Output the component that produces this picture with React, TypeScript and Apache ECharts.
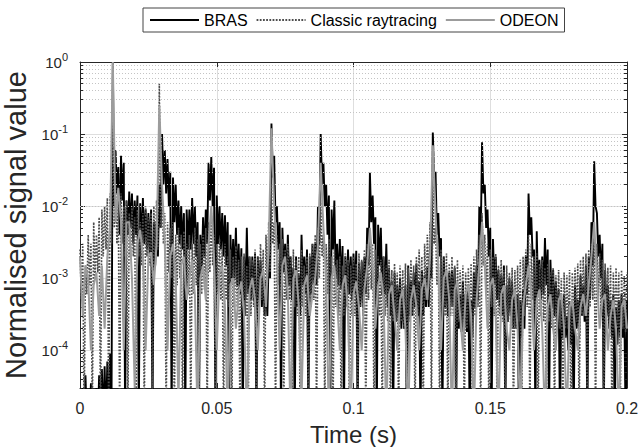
import React, { useEffect, useRef } from 'react';
import * as echarts from 'echarts';

// sample step of the read-off values (s)
const DT = 0.001;
const X_MIN = 0;
const X_MAX = 0.2;
const X_INTERVAL = 0.05;
const Y_MIN = 3e-5;
const Y_MAX = 1;
const SERIES_NAMES = ['BRAS', 'Classic raytracing', 'ODEON'];

// BRAS: upper values at each ms, lower values at each half ms
const BRAS_HI = [
  2e-5, 3e-5, 4.5e-5, 2e-5, 3.5e-5, 2e-5, 3e-5, 4.5e-5, 5.5e-5, 6e-5,
  7e-5, 9e-5, 1, 0.06, 0.035, 0.05, 0.04, 0.012, 0.016, 0.015,
  0.012, 0.014, 0.011, 0.013, 0.009, 0.008, 0.009, 0.006, 0.006, 0.02,
  0.1, 0.06, 0.045, 0.03, 0.025, 0.02, 0.012, 0.01, 0.008, 0.009,
  0.009, 0.013, 0.01, 0.006, 0.004, 0.007, 0.009, 0.04, 0.048, 0.034,
  0.014, 0.01, 0.008, 0.0075, 0.006, 0.004, 0.0035, 0.005, 0.003, 0.0026,
  0.002, 0.005, 0.002, 0.002, 0.0022, 0.002, 0.0018, 0.0012, 0.0009, 0.002,
  0.14, 0.05, 0.01, 0.006, 0.005, 0.003, 0.004, 0.002, 0.0014, 0.002,
  0.0011, 0.004, 0.002, 0.0025, 0.002, 0.003, 0.003, 0.01, 0.1, 0.04,
  0.02, 0.014, 0.009, 0.012, 0.003, 0.0035, 0.0028, 0.002, 0.0025, 0.002,
  0.0022, 0.0024, 0.0016, 0.0017, 0.002, 0.005, 0.029, 0.014, 0.007, 0.0055,
  0.005, 0.002, 0.003, 0.0014, 0.0009, 0.0012, 0.0008, 0.001, 0.0007, 0.0008,
  0.0015, 0.0009, 0.0012, 0.0016, 0.0009, 0.0013, 0.0011, 0.0014, 0.003, 0.105,
  0.03, 0.008, 0.0036, 0.002, 0.0011, 0.0012, 0.0013, 0.0014, 0.0008, 0.0006,
  0.0009, 0.0006, 0.0007, 0.0005, 0.0012, 0.0015, 0.01, 0.077, 0.02, 0.009,
  0.005, 0.0035, 0.002, 0.0013, 0.0011, 0.0015, 0.0008, 0.001, 0.0009, 0.0007,
  0.0006, 0.0005, 0.0007, 0.002, 0.015, 0.007, 0.0025, 0.0045, 0.0018, 0.002,
  0.0036, 0.0025, 0.0018, 0.0013, 0.0009, 0.0007, 0.0005, 0.0006, 0.0003, 0.00045,
  0.0004, 0.0008, 0.0005, 0.0011, 0.0008, 0.0015, 0.002, 0.006, 0.042, 0.008,
  0.004, 0.003, 0.0013, 0.0008, 0.0005, 0.0006, 0.0004, 0.0005, 0.0006, 0.0004,
  0.0005,
];
const BRAS_LO = [
  1e-5, 1e-5, 1e-5, 1e-5, 1e-5, 1e-5, 1e-5, 1e-5, 1e-5, 1e-5,
  1e-5, 1e-5, 0.01, 0.015, 4e-3, 0.012, 1e-5, 4e-3, 5e-3, 3e-3,
  4e-3, 1e-5, 3e-3, 3e-3, 2.5e-3, 2e-3, 1e-5, 1.5e-3, 2e-3, 5e-3,
  0.02, 0.015, 0.01, 1e-5, 6e-3, 4e-3, 3e-3, 2.5e-3, 1e-5, 2.5e-3,
  2.5e-3, 3e-3, 2e-3, 1e-5, 1.2e-3, 2e-3, 3e-3, 0.012, 0.01, 1e-5,
  3e-3, 2.5e-3, 2e-3, 1.5e-3, 1e-5, 1e-3, 1e-3, 8e-4, 6e-4, 1e-5,
  5e-4, 6e-4, 5e-4, 5e-4, 1e-5, 5e-4, 4e-4, 3e-4, 3e-4, 1e-3,
  0.025, 6e-3, 2.5e-3, 1e-5, 1.2e-3, 8e-4, 8e-4, 5e-4, 1e-5, 4e-4,
  3e-4, 8e-4, 6e-4, 1e-5, 6e-4, 8e-4, 8e-4, 3e-3, 0.02, 0.01,
  4e-3, 1e-5, 2.5e-3, 1e-3, 8e-4, 7e-4, 1e-5, 5e-4, 6e-4, 5e-4,
  6e-4, 1e-5, 4e-4, 4e-4, 6e-4, 1.5e-3, 6e-3, 3e-3, 1e-5, 1.5e-3,
  6e-4, 6e-4, 4e-4, 3e-4, 1e-5, 2.5e-4, 2.5e-4, 2e-4, 2e-4, 1e-5,
  3e-4, 3e-4, 4e-4, 3e-4, 1e-5, 3e-4, 4e-4, 4e-4, 1e-3, 0.025,
  4e-3, 2e-3, 1e-5, 4e-4, 3e-4, 4e-4, 4e-4, 1e-5, 2e-4, 1.8e-4,
  2e-4, 1.8e-4, 1e-5, 1.5e-4, 4e-4, 5e-4, 3e-3, 0.015, 5e-3, 2e-3,
  1e-5, 8e-4, 5e-4, 4e-4, 3e-4, 1e-5, 2.5e-4, 3e-4, 2e-4, 2e-4,
  1e-5, 1.5e-4, 2e-4, 6e-4, 4e-3, 2e-3, 1e-5, 6e-4, 5e-4, 6e-4,
  8e-4, 1e-5, 4e-4, 3e-4, 2.5e-4, 1e-5, 1.5e-4, 1.5e-4, 1e-4, 1.2e-4,
  1e-5, 2e-4, 1.5e-4, 3e-4, 2.5e-4, 1e-5, 5e-4, 1.5e-3, 0.01, 2e-3,
  1e-3, 1e-5, 3e-4, 2e-4, 1.5e-4, 1e-5, 1.2e-4, 1.5e-4, 1.5e-4, 1e-5,
];

// Classic raytracing
const CLASSIC_HI = [
  2.5e-3, 3e-3, 1.5e-3, 4e-3, 3e-3, 6e-3, 4e-3, 7e-3, 9e-3, 1e-2,
  1.3e-2, 1.5e-2, 1, 0.02, 0.012, 0.015, 0.01, 0.012, 0.008, 0.01,
  0.007, 0.009, 0.006, 0.008, 0.01, 0.007, 0.008, 0.01, 0.012, 0.5,
  0.015, 0.008, 0.006, 0.005, 0.006, 0.004, 0.005, 0.004, 0.0045, 0.003,
  0.004, 0.003, 0.005, 0.0035, 0.003, 0.004, 0.005, 0.006, 0.008, 0.004,
  0.003, 0.0035, 0.0025, 0.003, 0.002, 0.0025, 0.002, 0.0028, 0.0018, 0.002,
  0.0022, 0.0015, 0.002, 0.0018, 0.0025, 0.002, 0.003, 0.0025, 0.004, 0.006,
  0.02, 0.006, 0.004, 0.003, 0.0035, 0.0025, 0.003, 0.002, 0.0025, 0.0018,
  0.002, 0.0025, 0.0015, 0.002, 0.0022, 0.003, 0.004, 0.005, 0.012, 0.004,
  0.003, 0.0035, 0.002, 0.0025, 0.0018, 0.002, 0.0015, 0.0022, 0.0018, 0.0015,
  0.002, 0.0016, 0.0022, 0.0018, 0.0025, 0.003, 0.004, 0.003, 0.0025, 0.002,
  0.0018, 0.002, 0.0015, 0.0018, 0.0013, 0.0016, 0.0012, 0.0015, 0.0013, 0.0016,
  0.0014, 0.0018, 0.0015, 0.002, 0.0025, 0.002, 0.003, 0.004, 0.006, 0.02,
  0.005, 0.003, 0.0025, 0.002, 0.0022, 0.0016, 0.002, 0.0015, 0.0018, 0.0013,
  0.0015, 0.0012, 0.0014, 0.0016, 0.002, 0.0025, 0.004, 0.008, 0.004, 0.003,
  0.0025, 0.002, 0.0022, 0.0015, 0.0018, 0.0013, 0.0015, 0.0012, 0.0014, 0.0013,
  0.0015, 0.0018, 0.002, 0.0025, 0.004, 0.003, 0.002, 0.0022, 0.0016, 0.0018,
  0.0014, 0.0016, 0.0012, 0.0014, 0.0011, 0.0013, 0.001, 0.0012, 0.0011, 0.0013,
  0.0012, 0.0014, 0.0016, 0.0018, 0.002, 0.0022, 0.0025, 0.003, 0.005, 0.003,
  0.0022, 0.0018, 0.0016, 0.0014, 0.0015, 0.0012, 0.0014, 0.0012, 0.0013, 0.0011,
  0.0012,
];
const CLASSIC_LO = [
  5e-4, 1e-5, 6e-4, 8e-4, 1e-5, 1e-3, 1.2e-3, 1e-5, 2e-3, 2.5e-3,
  1e-5, 3e-3, 5e-3, 3e-3, 1e-5, 3e-3, 2e-3, 1e-5, 2e-3, 2e-3,
  1e-5, 2e-3, 1.5e-3, 1e-5, 2e-3, 1.5e-3, 1e-5, 2e-3, 2.5e-3, 5e-3,
  3e-3, 1e-5, 1.2e-3, 1e-3, 1e-5, 8e-4, 1e-3, 1e-5, 7e-4, 6e-4,
  1e-5, 6e-4, 8e-4, 1e-5, 6e-4, 7e-4, 1e-5, 1.2e-3, 1.5e-3, 1e-5,
  6e-4, 5e-4, 1e-5, 5e-4, 4e-4, 1e-5, 4e-4, 4e-4, 1e-5, 4e-4,
  3e-4, 1e-5, 3e-4, 4e-4, 1e-5, 4e-4, 5e-4, 1e-5, 8e-4, 1.2e-3,
  3e-3, 1e-5, 8e-4, 6e-4, 1e-5, 5e-4, 5e-4, 1e-5, 4e-4, 3e-4,
  1e-5, 4e-4, 3e-4, 1e-5, 4e-4, 5e-4, 1e-5, 1e-3, 2e-3, 1e-5,
  6e-4, 5e-4, 1e-5, 4e-4, 3e-4, 1e-5, 3e-4, 4e-4, 1e-5, 3e-4,
  3e-4, 1e-5, 4e-4, 3e-4, 1e-5, 5e-4, 7e-4, 1e-5, 4e-4, 3e-4,
  1e-5, 3e-4, 2.5e-4, 1e-5, 2.5e-4, 2.5e-4, 1e-5, 2.5e-4, 2e-4, 1e-5,
  2.5e-4, 3e-4, 1e-5, 3e-4, 4e-4, 1e-5, 5e-4, 7e-4, 1e-5, 3e-3,
  8e-4, 1e-5, 4e-4, 3e-4, 1e-5, 3e-4, 3e-4, 1e-5, 2.5e-4, 2e-4,
  1e-5, 2e-4, 2.5e-4, 1e-5, 3e-4, 4e-4, 1e-5, 1.5e-3, 6e-4, 1e-5,
  4e-4, 3e-4, 1e-5, 3e-4, 2.5e-4, 1e-5, 2.5e-4, 2e-4, 1e-5, 2e-4,
  2.5e-4, 1e-5, 3e-4, 4e-4, 1e-5, 5e-4, 3e-4, 1e-5, 3e-4, 2.5e-4,
  1e-5, 2.5e-4, 2e-4, 1e-5, 2e-4, 2e-4, 1e-5, 2e-4, 2e-4, 1e-5,
  2e-4, 2.5e-4, 1e-5, 3e-4, 3e-4, 1e-5, 4e-4, 5e-4, 1e-5, 5e-4,
  3e-4, 1e-5, 2.5e-4, 2e-4, 1e-5, 2e-4, 2e-4, 1e-5, 2e-4, 1.8e-4,
];

// ODEON, one value per ms
const ODEON = [
  2e-3, 3e-4, 1.5e-3, 1e-3, 1e-4, 8e-4, 1.2e-3, 3e-4, 1.5e-3, 2e-4,
  2e-3, 5e-3, 1, 6e-3, 0.018, 6e-3, 1e-4, 6e-3, 6e-3, 1e-3,
  3e-5, 3e-3, 4.7e-3, 2e-3, 1e-4, 2e-3, 2.3e-3, 8e-4, 3e-3, 0.25,
  0.02, 3e-3, 1e-4, 2e-3, 3e-3, 1e-3, 2e-5, 1.5e-3, 2e-3, 5e-4,
  1e-3, 1.8e-3, 6e-4, 1e-5, 1e-3, 1.5e-3, 5e-4, 3e-3, 0.01, 2e-3,
  1e-4, 1.2e-3, 1.5e-3, 4e-4, 1e-5, 8e-4, 1e-3, 2e-4, 6e-4, 9e-4,
  3e-4, 1e-5, 7e-4, 1e-3, 5e-4, 1e-4, 1e-3, 1.3e-3, 4e-4, 3e-3,
  0.12, 0.01, 2e-3, 1e-4, 1.5e-3, 2e-3, 6e-4, 1e-5, 1e-3, 1.3e-3,
  4e-4, 2e-5, 8e-4, 1.1e-3, 3e-4, 6e-4, 1e-3, 3e-3, 0.04, 5e-3,
  1e-3, 1e-5, 1e-3, 1.5e-3, 5e-4, 1e-4, 8e-4, 1.1e-3, 3e-4, 1e-5,
  6e-4, 9e-4, 4e-4, 1e-4, 7e-4, 1.5e-3, 5e-3, 1.5e-3, 2e-4, 8e-4,
  1.2e-3, 5e-4, 1e-5, 6e-4, 8e-4, 3e-4, 1e-4, 5e-4, 7e-4, 2e-4,
  1e-5, 5e-4, 8e-4, 4e-4, 1e-4, 7e-4, 1e-3, 5e-4, 2e-3, 0.07,
  8e-3, 1.5e-3, 1e-4, 1e-3, 1.3e-3, 5e-4, 1e-5, 7e-4, 9e-4, 3e-4,
  1e-4, 6e-4, 8e-4, 3e-4, 1e-5, 5e-4, 1.5e-3, 6e-3, 1.5e-3, 2e-4,
  8e-4, 1e-3, 3e-4, 1e-5, 6e-4, 8e-4, 2e-4, 1e-4, 5e-4, 7e-4,
  2e-4, 1e-5, 4e-4, 8e-4, 1.5e-3, 6e-4, 1e-4, 5e-4, 7e-4, 2e-4,
  1e-5, 4e-4, 6e-4, 2e-4, 1e-4, 5e-4, 6e-4, 2e-4, 1e-5, 4e-4,
  5e-4, 2e-4, 1e-4, 4e-4, 6e-4, 3e-4, 8e-4, 2e-3, 6e-3, 1e-3,
  2e-4, 5e-4, 6e-4, 1e-4, 3e-4, 5e-4, 2e-4, 1e-5, 4e-4, 5e-4,
  2e-4,
];

const FONT = '"Liberation Sans", Arial, Helvetica, sans-serif';
const AXIS_COLOR = '#262626';
const MINOR_TICK_SPAN = 0.0011; // minor tick length, in x data units

function interleave(hi: number[], lo: number[]): number[][] {
  const out: number[][] = [];
  for (let i = 0; i < hi.length; i++) {
    out.push([+(i * DT).toFixed(4), hi[i]]);
    if (i < lo.length) out.push([+((i + 0.5) * DT).toFixed(4), lo[i]]);
  }
  return out;
}

function minorGridValues(): number[] {
  const vals: number[] = [];
  for (let e = -5; e <= -1; e++) {
    for (let k = 2; k <= 9; k++) {
      const v = k * Math.pow(10, e);
      if (v > Y_MIN * 1.0001 && v < Y_MAX) vals.push(v);
    }
  }
  return vals;
}

function yLabel(v: number): string {
  const e = Math.round(Math.log10(v));
  if (Math.abs(v - Math.pow(10, e)) / v > 1e-6) return '';
  return `{b|10}{s|${e}}`;
}

export default function App() {
  const ref = useRef<HTMLDivElement>(null);
  useEffect(() => {
    if (!ref.current) return;
    const chart = echarts.init(ref.current, null, { renderer: 'svg' });
    const bras = interleave(BRAS_HI, BRAS_LO);
    const classic = interleave(CLASSIC_HI, CLASSIC_LO);
    const odeon = ODEON.map((v, i) => [+(i * DT).toFixed(4), v]);
    const minor = minorGridValues();
    const minorTicks: any[] = [];
    minor.forEach((v) => {
      minorTicks.push([{ coord: [X_MIN, v] }, { coord: [X_MIN + MINOR_TICK_SPAN, v] }]);
      minorTicks.push([{ coord: [X_MAX - MINOR_TICK_SPAN, v] }, { coord: [X_MAX, v] }]);
    });

    const option: any = {
      animation: false,
      textStyle: { fontFamily: FONT },
      grid: { left: 80, right: 14, top: 62, bottom: 59, containLabel: false, outerBoundsMode: 'none' },
      legend: {
        data: SERIES_NAMES.map((n) => ({ name: n, itemStyle: { opacity: 0 } })),
        left: 143,
        top: 8,
        itemWidth: 49,
        itemHeight: 14,
        itemGap: 8,
        padding: [4, 6, 4, 6],
        borderColor: '#444',
        borderWidth: 1,
        textStyle: { fontSize: 16, color: '#000', fontFamily: FONT },
      },
      xAxis: [
        {
          type: 'value',
          min: X_MIN,
          max: X_MAX,
          interval: X_INTERVAL,
          position: 'bottom',
          name: 'Time (s)',
          nameLocation: 'middle',
          nameGap: 34,
          nameTextStyle: { fontSize: 24, color: AXIS_COLOR, fontFamily: FONT },
          axisLine: { show: true, onZero: false, lineStyle: { color: AXIS_COLOR, width: 1 } },
          axisTick: { show: true, inside: true, length: 5, lineStyle: { color: AXIS_COLOR } },
          axisLabel: {
            fontSize: 16,
            color: AXIS_COLOR,
            margin: 12,
            fontFamily: FONT,
            formatter: (v: number) => String(+v.toFixed(3)),
          },
          splitLine: { show: true, lineStyle: { color: '#dedede', width: 1 } },
        },
        {
          type: 'value',
          min: X_MIN,
          max: X_MAX,
          interval: X_INTERVAL,
          position: 'top',
          axisLine: { show: true, onZero: false, lineStyle: { color: AXIS_COLOR, width: 1 } },
          axisTick: { show: true, inside: true, length: 5, lineStyle: { color: AXIS_COLOR } },
          axisLabel: { show: false },
          splitLine: { show: false },
        },
      ],
      yAxis: [
        {
          type: 'log',
          logBase: 10,
          min: Y_MIN,
          max: Y_MAX,
          position: 'left',
          name: 'Normalised signal value',
          nameLocation: 'middle',
          nameGap: 36,
          nameTextStyle: { fontSize: 29, color: AXIS_COLOR, fontFamily: FONT },
          axisLine: { show: true, onZero: false, lineStyle: { color: AXIS_COLOR, width: 1 } },
          axisTick: { show: true, inside: true, length: 5, lineStyle: { color: AXIS_COLOR } },
          axisLabel: {
            color: AXIS_COLOR,
            margin: 12,
            formatter: yLabel,
            rich: {
              b: { fontSize: 15, lineHeight: 22, color: AXIS_COLOR, fontFamily: FONT },
              s: { fontSize: 11, lineHeight: 11, verticalAlign: 'top', color: AXIS_COLOR, fontFamily: FONT },
            },
          },
          splitLine: { show: true, lineStyle: { color: '#dedede', width: 1 } },
        },
        {
          type: 'log',
          logBase: 10,
          min: Y_MIN,
          max: Y_MAX,
          position: 'right',
          axisLine: { show: true, onZero: false, lineStyle: { color: AXIS_COLOR, width: 1 } },
          axisTick: { show: true, inside: true, length: 5, lineStyle: { color: AXIS_COLOR } },
          axisLabel: { show: false },
          splitLine: { show: false },
        },
      ],
      series: [
        {
          name: 'minor-grid',
          type: 'line',
          data: [],
          z: 0,
          silent: true,
          symbol: 'none',
          markLine: {
            silent: true,
            symbol: ['none', 'none'],
            label: { show: false },
            lineStyle: { type: [1, 2], color: '#c4c4c4', width: 1 },
            data: minor.map((v) => ({ yAxis: v })),
          },
        },
        {
          name: 'BRAS',
          type: 'line',
          data: bras,
          symbol: 'none',
          showSymbol: false,
          z: 3,
          lineStyle: { color: '#000000', width: 1.9 },
          itemStyle: { color: '#000000' },
        },
        {
          name: 'Classic raytracing',
          type: 'line',
          data: classic,
          symbol: 'none',
          showSymbol: false,
          z: 4,
          lineStyle: { color: '#4d4d4d', width: 1.6, type: [1.8, 1.4] },
          itemStyle: { color: '#4d4d4d' },
        },
        {
          name: 'ODEON',
          type: 'line',
          data: odeon,
          symbol: 'none',
          showSymbol: false,
          z: 5,
          lineStyle: { color: '#9c9c9c', width: 2 },
          itemStyle: { color: '#9c9c9c' },
        },
        {
          name: 'minor-ticks',
          type: 'line',
          data: [],
          z: 10,
          silent: true,
          symbol: 'none',
          markLine: {
            silent: true,
            symbol: ['none', 'none'],
            label: { show: false },
            lineStyle: { type: 'solid', color: AXIS_COLOR, width: 1 },
            data: minorTicks,
          },
        },
      ],
    };
    chart.setOption(option);
    return () => chart.dispose();
  }, []);
  return (
    <div
      ref={ref}
      style={{ position: 'fixed', left: 0, top: 0, width: 641, height: 447, background: '#fff' }}
    />
  );
}
